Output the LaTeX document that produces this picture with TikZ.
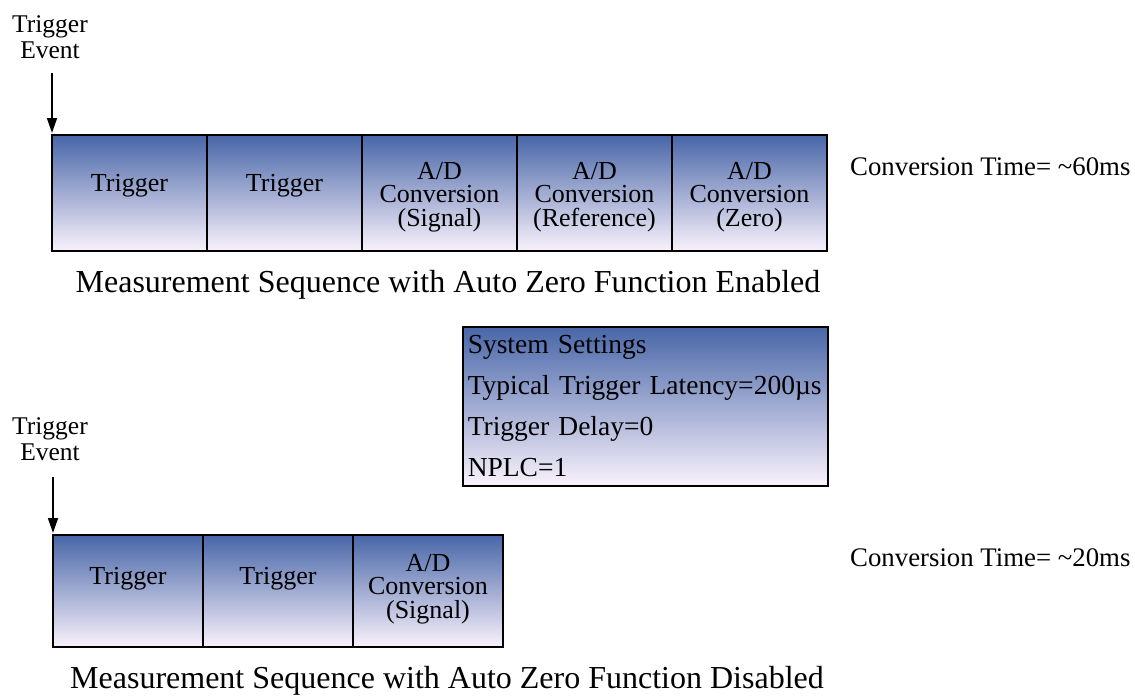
\documentclass[tikz,border=0pt]{standalone}
\usepackage{fontspec}
\setmainfont{Liberation Serif}
\usetikzlibrary{arrows.meta,calc}
\definecolor{topc}{RGB}{72,102,168}
\definecolor{midc}{RGB}{146,118,186}
\definecolor{botc}{RGB}{250,242,252}
\tikzset{
  cellbox/.style={draw=black, line width=1.5pt, top color=topc, middle color=midc, bottom color=botc,
    inner sep=0pt, outer sep=0pt, anchor=north west},
  topcell/.style={cellbox, minimum width=155pt, minimum height=116pt},
  botcell/.style={cellbox, minimum width=150pt, minimum height=112pt},
  celltext/.style={align=center, inner sep=0pt, font=\fontsize{26}{23.5}\selectfont},
  eventlabel/.style={align=center, inner sep=0pt, anchor=base, font=\fontsize{25.5}{26}\selectfont},
  caption/.style={inner sep=0pt, anchor=base, font=\fontsize{32}{34}\selectfont},
  convtext/.style={inner sep=0pt, anchor=base west, font=\fontsize{26.8}{28}\selectfont},
  arr/.style={line width=1.6pt, -{Triangle[length=15pt,width=10pt]}},
}
\begin{document}
\begin{tikzpicture}[x=1pt,y=-1pt]
\useasboundingbox (0,0) rectangle (1135,699);
\fill[white] (0,0) rectangle (1135,699);

% ---- top sequence ----
\node[eventlabel] (te1) at (50,58) {Trigger\\Event};
\coordinate (a1s) at (52,73);
\node[topcell] (t1) at (52,135) {};
\node[topcell] (t2) at (207,135) {};
\node[topcell] (t3) at (362,135) {};
\node[topcell] (t4) at (517,135) {};
\node[topcell] (t5) at (672,135) {};
\draw[arr] (a1s) -- ($(t1.north west)+(0,-2)$);
\node[celltext] at ($(t1.center)+(0,-7)$) {Trigger};
\node[celltext] at ($(t2.center)+(0,-7)$) {Trigger};
\node[celltext] at ($(t3.center)+(0,4)$) {A/D\\Conversion\\(Signal)};
\node[celltext] at ($(t4.center)+(0,4)$) {A/D\\Conversion\\(Reference)};
\node[celltext] at ($(t5.center)+(0,4)$) {A/D\\Conversion\\(Zero)};
\node[convtext] (c1) at (850,175) {Conversion Time= \textasciitilde60ms};
\node[caption] (cap1) at (448,292) {Measurement Sequence with Auto Zero Function Enabled};

% ---- system settings ----
\node[draw=black, line width=1.5pt, top color=topc, middle color=midc, bottom color=botc,
  anchor=north west, minimum width=365pt, minimum height=159pt, inner xsep=5pt, inner ysep=0pt,
  text width=355pt, align=left, font=\fontsize{27.5}{41}\selectfont] (sys) at (462,326)
  {System Settings\\Typical Trigger Latency=200µs\\Trigger Delay=0\\NPLC=1};

% ---- bottom sequence ----
\node[eventlabel] (te2) at (50,460) {Trigger\\Event};
\coordinate (a2s) at (53,477);
\node[botcell] (b1) at (53,535) {};
\node[botcell] (b2) at (203,535) {};
\node[botcell] (b3) at (353,535) {};
\draw[arr] (a2s) -- ($(b1.north west)+(0,-2)$);
\node[celltext] at ($(b1.center)+(0,-12)$) {Trigger};
\node[celltext] at ($(b2.center)+(0,-12)$) {Trigger};
\node[celltext] at ($(b3.center)+(0,-2)$) {A/D\\Conversion\\(Signal)};
\node[convtext] (c2) at (850,566) {Conversion Time= \textasciitilde20ms};
\node[caption] (cap2) at (447,688) {Measurement Sequence with Auto Zero Function Disabled};
\end{tikzpicture}
\end{document}
